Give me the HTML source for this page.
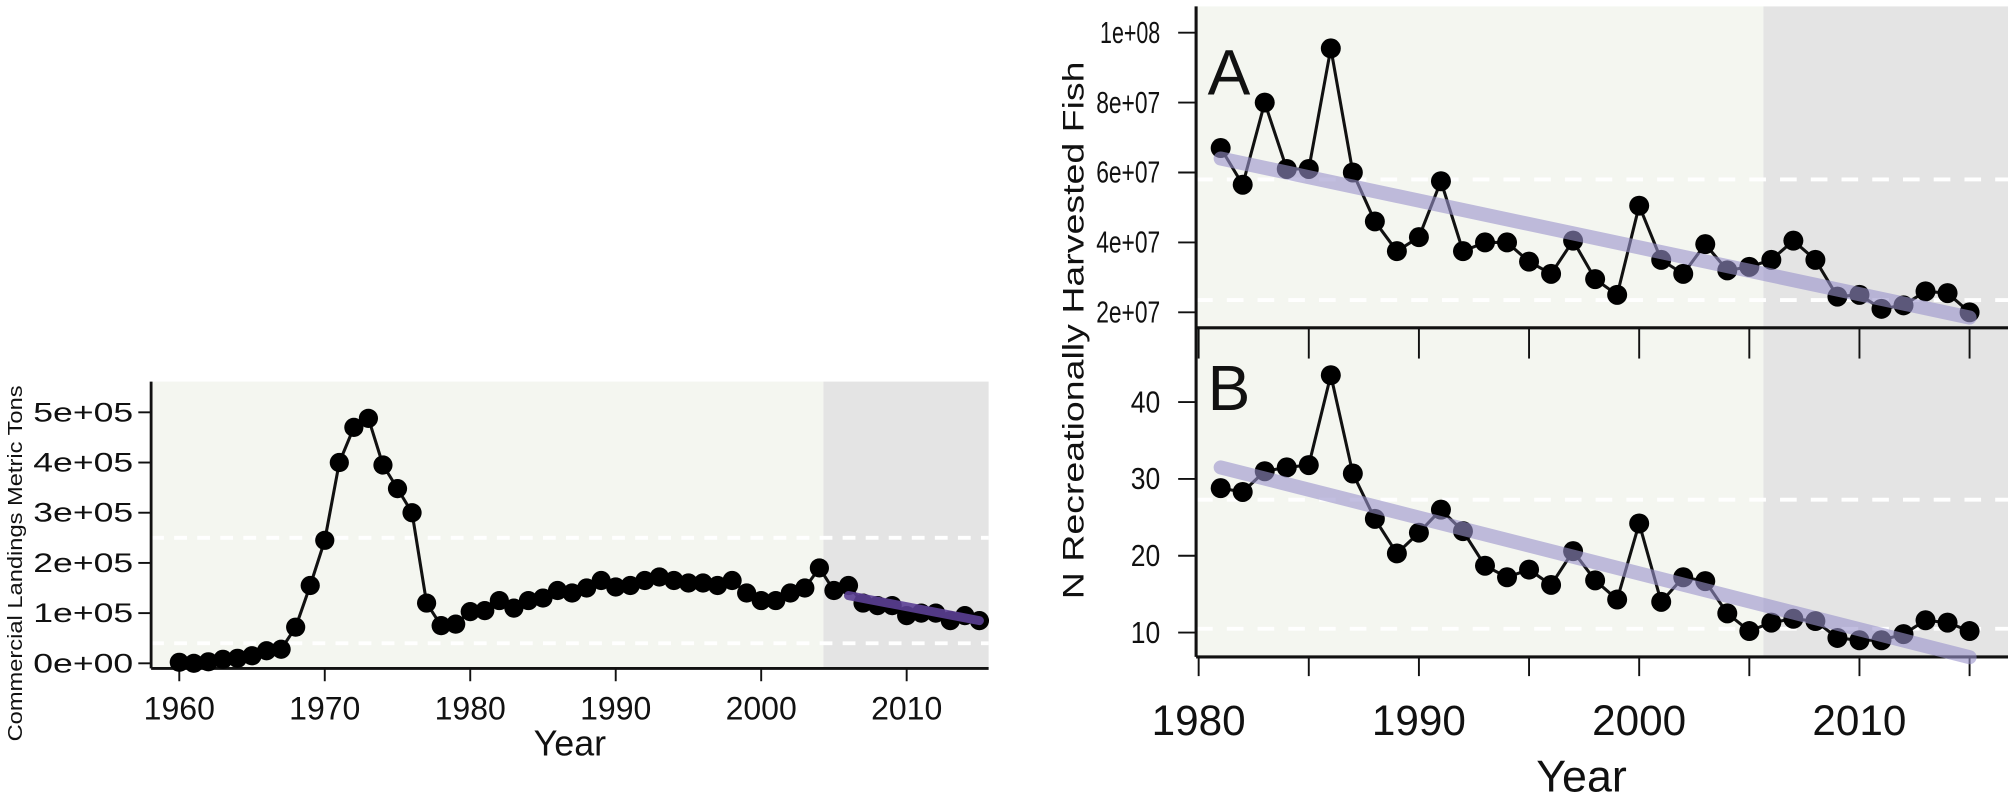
<!DOCTYPE html>
<html><head><meta charset="utf-8"><style>
html,body{margin:0;padding:0;background:#fff;width:2008px;height:797px;overflow:hidden}
svg{display:block}
text{font-family:"Liberation Sans",sans-serif;fill:#111}
</style></head><body>
<svg id="fig" width="2008" height="797" viewBox="0 0 1568 622.4" preserveAspectRatio="none" xmlns="http://www.w3.org/2000/svg"></svg>
<script>
// Commercial landings (metric tons, x1e5), 1960-2015
const comYears = [];
for (let y = 1960; y <= 2015; y++) comYears.push(y);
const comValues = [0.02,0.0,0.03,0.08,0.1,0.15,0.25,0.28,0.72,1.55,2.45,4.0,4.7,4.88,3.95,3.48,3.0,1.2,0.75,0.78,1.03,1.05,1.25,1.1,1.25,1.3,1.45,1.4,1.5,1.65,1.52,1.55,1.65,1.72,1.65,1.6,1.6,1.55,1.65,1.4,1.25,1.25,1.4,1.5,1.9,1.45,1.55,1.2,1.15,1.15,0.95,1.0,1.0,0.85,0.95,0.85];
const comTrend = [[2006,1.35],[2015,0.85]];
const comYTicks = [0,1,2,3,4,5];
const comYTickLabels = ["0e+00","1e+05","2e+05","3e+05","4e+05","5e+05"];
const comXTicks = [1960,1970,1980,1990,2000,2010];
const comDashes = [2.5,0.4];

// Recreational harvest, 1981-2015
const recYears = [];
for (let y = 1981; y <= 2015; y++) recYears.push(y);
const recA = [6.7,5.65,8.0,6.1,6.1,9.55,6.0,4.6,3.75,4.15,5.75,3.75,4.0,4.0,3.45,3.1,4.05,2.95,2.5,5.05,3.5,3.1,3.95,3.2,3.3,3.5,4.05,3.5,2.45,2.5,2.1,2.2,2.6,2.55,2.0];
const recB = [28.8,28.3,31,31.5,31.8,43.5,30.7,24.8,20.3,23,26,23.2,18.7,17.2,18.2,16.2,20.6,16.8,14.3,24.2,14,17.2,16.7,12.5,10.2,11.3,11.8,11.5,9.3,9.0,9.0,9.8,11.6,11.3,10.2];
const trendA = [[1981,6.4],[2015,1.85]];
const trendB = [[1981,31.5],[2015,6.8]];
const aYTicks = [2,4,6,8,10];
const aYTickLabels = ["2e+07","4e+07","6e+07","8e+07","1e+08"];
const bYTicks = [10,20,30,40];
const recXTicks = [1980,1985,1990,1995,2000,2005,2010,2015];
const recXLabels = [1980,1990,2000,2010];
const aDashes = [5.8,2.35];
const bDashes = [27.3,10.5];

const NS = "http://www.w3.org/2000/svg";
const svg = document.getElementById("fig");
function mk(tag, attrs, parent, txt) {
  const e = document.createElementNS(NS, tag);
  for (const k in attrs) e.setAttribute(k, attrs[k]);
  if (txt !== undefined) e.textContent = txt;
  (parent || svg).appendChild(e);
  return e;
}

// ---------- Left chart ----------
const lx = y => 140 + (y - 1960) * 11.36;
const ly = v => 518 - v * 39.2;
const gL = mk("g", {});


let r = mk("rect", {x:118,y:298,width:525,height:224,fill:"#f4f6f0"}, gL);


r = mk("rect", {x:643,y:298,width:129,height:224,fill:"#e4e4e4"}, gL);


comDashes.forEach(v => {
  const l = mk("line", {x1:118,x2:772,y1:ly(v),y2:ly(v),stroke:"#fff","stroke-width":3,"stroke-dasharray":"10 8"}, gL);
  
  
});
let ax = mk("line", {x1:118,x2:118,y1:298,y2:522,stroke:"#111","stroke-width":2.2}, gL);


ax = mk("line", {x1:118,x2:772,y1:522,y2:522,stroke:"#111","stroke-width":2.2}, gL);


comYTicks.forEach((v, i) => {
  mk("line", {x1:108,x2:118,y1:ly(v),y2:ly(v),stroke:"#111","stroke-width":1.5}, gL);
  const t = mk("text", {x:104,y:ly(v)+7,"text-anchor":"end","font-size":21,textLength:78,lengthAdjust:"spacingAndGlyphs"}, gL, comYTickLabels[i]);
  
  
});
comXTicks.forEach(v => {
  mk("line", {x1:lx(v),x2:lx(v),y1:522,y2:532,stroke:"#111","stroke-width":1.5}, gL);
  const t = mk("text", {x:lx(v),y:562,"text-anchor":"middle","font-size":25}, gL, v);
  
  
});
let t = mk("text", {x:445,y:590,"text-anchor":"middle","font-size":28}, gL, "Year");


t = mk("text", {x:0,y:0,"text-anchor":"middle","font-size":16,textLength:278,lengthAdjust:"spacingAndGlyphs",transform:"translate(17,440) rotate(-90)"}, gL, "Commercial Landings Metric Tons");


let p = mk("polyline", {points: comYears.map((y,i)=>lx(y)+","+ly(comValues[i])).join(" "),fill:"none",stroke:"#111","stroke-width":2.4}, gL);


comYears.forEach((y,i) => {
  const c = mk("circle", {cx:lx(y),cy:ly(comValues[i]),r:7.5,fill:"#000"}, gL);
  
  
});
p = mk("line", {x1:lx(comTrend[0][0]),y1:ly(comTrend[0][1]),x2:lx(comTrend[1][0]),y2:ly(comTrend[1][1]),stroke:"#5b3f93","stroke-width":7,"stroke-linecap":"round","stroke-opacity":0.9}, gL);



// ---------- Right chart ----------
const rx = y => 936 + (y - 1980) * 17.2;
const ay = v => 25.5 + (10 - v) * 27.3;
const by = v => 314 + (40 - v) * 6.0;
const gR = mk("g", {});


function panel(y0, y1, name) {
  let a = mk("rect", {x:934,y:y0,width:443,height:y1-y0,fill:"#f4f6f0"}, gR);
  
  
  a = mk("rect", {x:1377,y:y0,width:191,height:y1-y0,fill:"#e4e4e4"}, gR);
  
  
}
panel(5, 255, 'panel-a');
panel(257, 512, 'panel-b');
aDashes.forEach(v => {
  const l = mk("line", {x1:934,x2:1568,y1:ay(v),y2:ay(v),stroke:"#fff","stroke-width":3,"stroke-dasharray":"13 11"}, gR);
  
  
});
bDashes.forEach(v => {
  const l = mk("line", {x1:934,x2:1568,y1:by(v),y2:by(v),stroke:"#fff","stroke-width":3,"stroke-dasharray":"13 11"}, gR);
  
  
});
ax = mk("line", {x1:934,x2:934,y1:5,y2:513,stroke:"#111","stroke-width":2.4}, gR);


ax = mk("line", {x1:934,x2:1568,y1:256,y2:256,stroke:"#111","stroke-width":2.4}, gR);


ax = mk("line", {x1:934,x2:1568,y1:513,y2:513,stroke:"#111","stroke-width":2.4}, gR);


recXTicks.forEach(v => {
  mk("line", {x1:rx(v),x2:rx(v),y1:256,y2:280,stroke:"#111","stroke-width":1.5}, gR);
  mk("line", {x1:rx(v),x2:rx(v),y1:513,y2:528,stroke:"#111","stroke-width":1.5}, gR);
});
recXLabels.forEach(v => {
  const tt = mk("text", {x:rx(v),y:574,"text-anchor":"middle","font-size":33}, gR, v);
  
  
});
aYTicks.forEach((v,i) => {
  mk("line", {x1:920,x2:934,y1:ay(v),y2:ay(v),stroke:"#111","stroke-width":1.5}, gR);
  const tt = mk("text", {x:906,y:ay(v)+8,"text-anchor":"end","font-size":24,textLength:aYTickLabels[i]==="1e+08"?47:50,lengthAdjust:"spacingAndGlyphs"}, gR, aYTickLabels[i]);
  
  
});
bYTicks.forEach(v => {
  mk("line", {x1:920,x2:934,y1:by(v),y2:by(v),stroke:"#111","stroke-width":1.5}, gR);
  const tt = mk("text", {x:906,y:by(v)+8,"text-anchor":"end","font-size":24,textLength:23,lengthAdjust:"spacingAndGlyphs"}, gR, v);
  
  
});
t = mk("text", {x:1235,y:618,"text-anchor":"middle","font-size":35}, gR, "Year");


t = mk("text", {x:0,y:0,"text-anchor":"middle","font-size":23,textLength:420,lengthAdjust:"spacingAndGlyphs",transform:"translate(846,258) rotate(-90)"}, gR, "N Recreationally Harvested Fish");


t = mk("text", {x:943,y:74,"font-size":50}, gR, "A");


t = mk("text", {x:943,y:320,"font-size":50}, gR, "B");



function series(vals, yf, trend, name) {
  const pl = mk("polyline", {points: recYears.map((y,i)=>rx(y)+","+yf(vals[i])).join(" "),fill:"none",stroke:"#111","stroke-width":2.4}, gR);
  
  
  recYears.forEach((y,i) => {
    const c = mk("circle", {cx:rx(y),cy:yf(vals[i]),r:7.8,fill:"#000"}, gR);
    
    
  });
  const tl = mk("line", {x1:rx(trend[0][0]),y1:yf(trend[0][1]),x2:rx(trend[1][0]),y2:yf(trend[1][1]),stroke:"#9a92cc","stroke-width":11,"stroke-linecap":"round","stroke-opacity":0.6}, gR);
  
  
}
series(recA, ay, trendA, 'panel-a');
series(recB, by, trendB, 'panel-b');
</script>
</body></html>
